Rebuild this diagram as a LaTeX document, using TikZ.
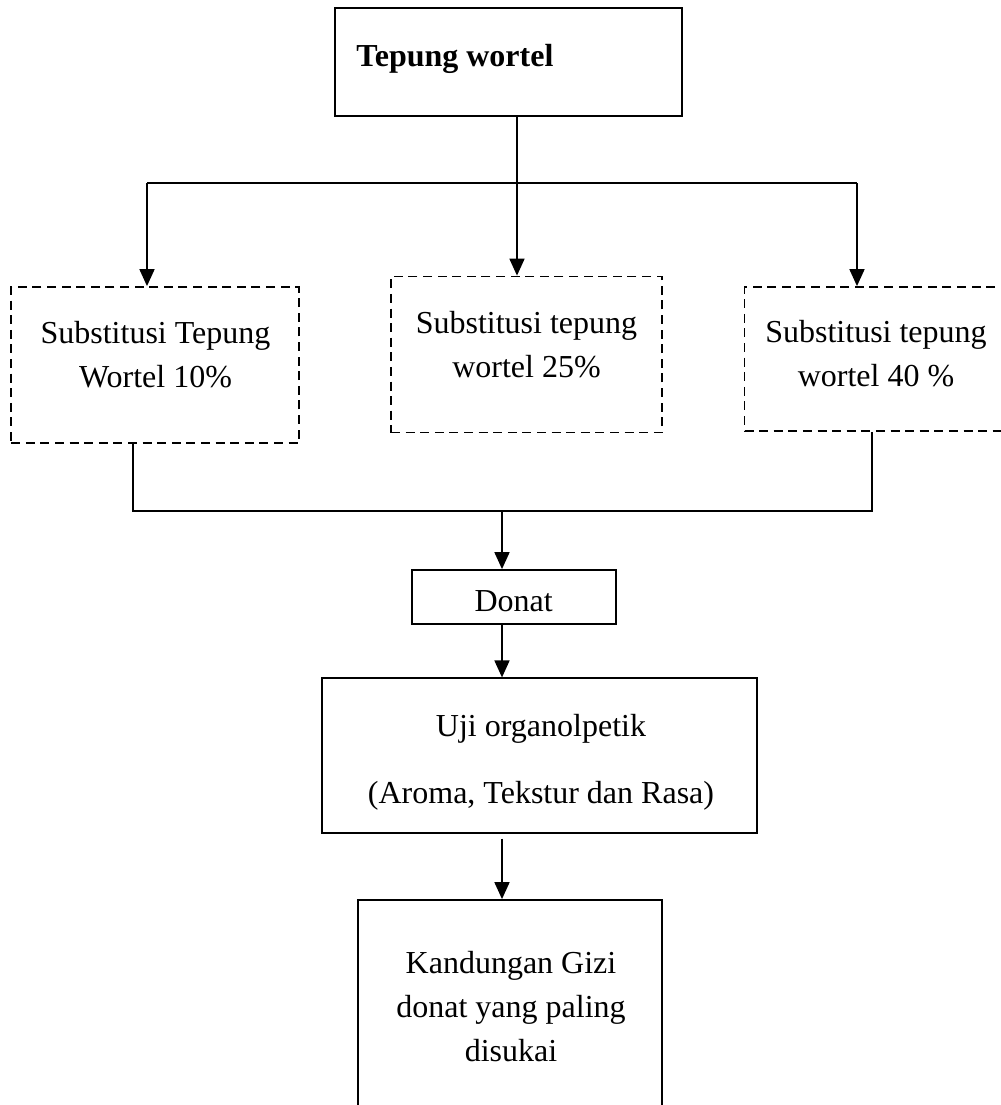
\documentclass[tikz,border=0pt]{standalone}
\usepackage{fontspec}
\setmainfont{Liberation Serif}
\usetikzlibrary{arrows.meta}

\tikzset{
    solidbox/.style={draw,line width=0.9pt,inner sep=0pt},
    dashbox/.style={draw,line width=0.9pt,dash pattern=on 4.5pt off 2.8pt,inner sep=0pt},
    label text/.style={align=center,inner sep=0pt,font=\fontsize{16}{22}\selectfont},
    link/.style={line width=0.9pt},
    flow/.style={line width=0.9pt,-{Triangle[length=8.5pt,width=7.5pt]}}
}

\begin{document}
\begin{tikzpicture}[x=0.5pt,y=-0.5pt]
    \useasboundingbox (0,0) rectangle (1001,1105);
    \clip (0,0) rectangle (1001,1105);

    % Starting material
    \node[solidbox,minimum width=173.5pt,minimum height=54pt] (tw) at (508.5,62) {};
    \node[label text,anchor=base west,font=\fontsize{16}{22}\selectfont\bfseries] (twt) at (356,66) {Tepung wortel};

    % Substitution levels
    \node[dashbox,minimum width=143.75pt,minimum height=78pt] (s1) at (155,365) {};
    \node[label text] (s1t) at (155.5,355) {Substitusi Tepung\\Wortel 10\%};
    \node[dashbox,minimum width=135.5pt,minimum height=78pt] (s2) at (526.5,354.5) {};
    \node[label text] (s2t) at (526.5,344.5) {Substitusi tepung\\wortel 25\%};
    \node[dashbox,minimum width=132.5pt,minimum height=72pt] (s3) at (877,359) {};
    \node[label text] (s3t) at (876,354) {Substitusi tepung\\wortel 40 \%};

    % Product and tests
    \node[solidbox,minimum width=102pt,minimum height=27pt] (dn) at (514,597) {};
    \node[label text] (dnt) at (513.7,601) {Donat};
    \node[solidbox,minimum width=217.5pt,minimum height=77.2pt] (uji) at (539.5,755.5) {};
    \node[label text,font=\fontsize{16}{33.3}\selectfont] (ujit) at (541,762) {Uji organolpetik\\(Aroma, Tekstur dan Rasa)};
    \node[solidbox,minimum width=152pt,minimum height=115pt] (kg) at (509.7,1015) {};
    \node[label text] (kgt) at (511,1007) {Kandungan Gizi\\donat yang paling\\disukai};

    % Branch points
    \coordinate (b1) at (147,183);
    \coordinate (b2) at (517,183);
    \coordinate (b3) at (857,183);
    \coordinate (m1) at (133,511);
    \coordinate (m2) at (502,511);
    \coordinate (m3) at (872,511);

    % Split
    \draw[link] (b1) -- (b3);
    \draw[flow] (tw.south -| b2) -- (b2 |- s2.north);
    \draw[flow] (b1) -- (b1 |- s1.north);
    \draw[flow] (b3) -- (b3 |- s3.north);

    % Merge
    \draw[link] (m1 |- s1.south) -- (m1) -- (m3) -- (m3 |- s3.south);
    \draw[flow] (m2) -- (m2 |- dn.north);
    \draw[flow] (dn.south -| m2) -- (m2 |- uji.north);
    \draw[flow,shorten <=2.5pt] (uji.south -| m2) -- (m2 |- kg.north);
\end{tikzpicture}
\end{document}
